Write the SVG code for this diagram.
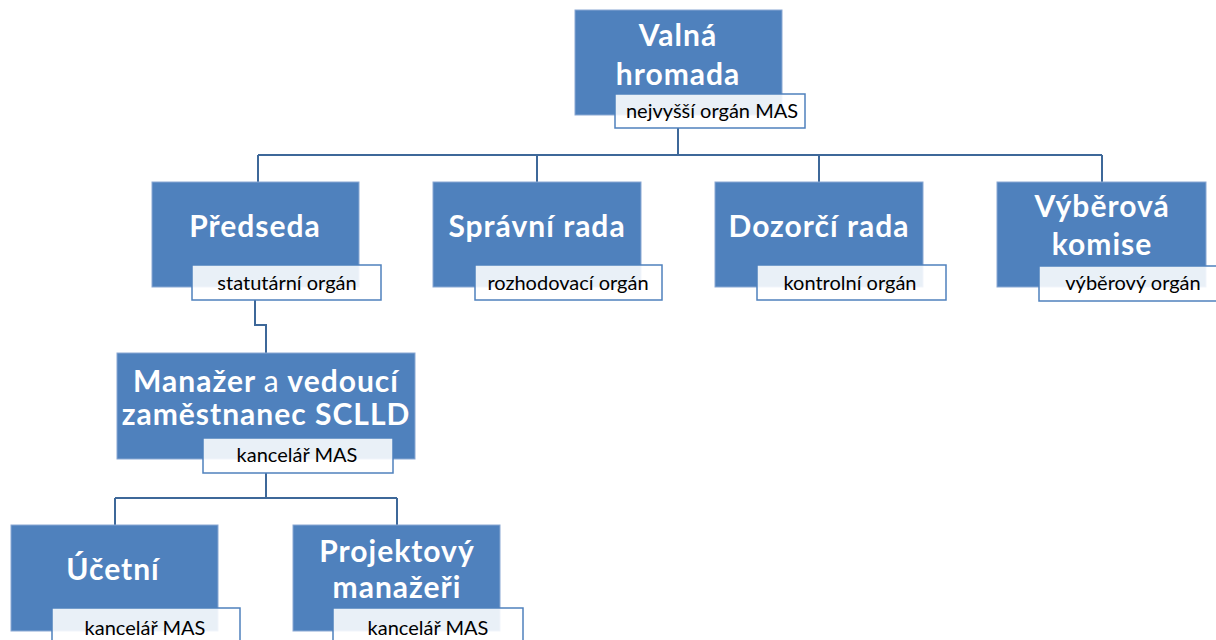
<svg xmlns="http://www.w3.org/2000/svg" width="1216" height="640" viewBox="0 0 1216 640">
<style>
.box{fill:#4F81BD;stroke:#8AA8D3;stroke-width:1}
.lbl{fill:#FFFFFF;fill-opacity:0.88;stroke:#4F81BD;stroke-width:1.5}
.t{font-family:Lato,"Open Sans","Liberation Sans",sans-serif;font-weight:700;font-size:30px;letter-spacing:1px;fill:#FFFFFF;text-anchor:middle}
.s{font-family:Lato,"Open Sans","Liberation Sans",sans-serif;font-size:20px;fill:#000000;text-anchor:middle}
.c{fill:none;stroke:#3E6899;stroke-width:2}
</style>
<rect width="1216" height="640" fill="#FFFFFF"/>
<g id="connectors">
<path class="c" d="M678 128V155M258 155H1102M258 155V182M537 155V182M819 155V182M1102 155V182"/>
<path class="c" d="M255 300V325H266V353"/>
<path class="c" d="M266 473V498M115 498H397M115 498V525M397 498V525"/>
</g>
<g id="valna">
<rect class="box" x="575" y="10" width="207" height="105"/>
<text class="t" x="678" y="46">Valná</text>
<text class="t" x="678" y="85">hromada</text>
<rect class="lbl" x="615" y="94" width="190" height="34"/>
<text class="s" x="712" y="118">nejvyšší orgán MAS</text>
</g>
<g id="predseda">
<rect class="box" x="152" y="182" width="207" height="105"/>
<text class="t" x="255" y="237">Předseda</text>
<rect class="lbl" x="192" y="265" width="189" height="35"/>
<text class="s" x="287" y="290">statutární orgán</text>
</g>
<g id="spravni">
<rect class="box" x="433" y="182" width="208" height="105"/>
<text class="t" x="537" y="237">Správní rada</text>
<rect class="lbl" x="475" y="265" width="187" height="35"/>
<text class="s" x="568" y="290">rozhodovací orgán</text>
</g>
<g id="dozorci">
<rect class="box" x="715" y="182" width="208" height="105"/>
<text class="t" x="819" y="237">Dozorčí rada</text>
<rect class="lbl" x="757" y="265" width="189" height="35"/>
<text class="s" x="850" y="290">kontrolní orgán</text>
</g>
<g id="vyberova">
<rect class="box" x="997" y="182" width="209" height="105"/>
<text class="t" x="1102" y="217">Výběrová</text>
<text class="t" x="1102" y="255">komise</text>
<rect class="lbl" x="1039" y="266" width="190" height="35"/>
<text class="s" x="1133" y="290">výběrový orgán</text>
</g>
<g id="manazer">
<rect class="box" x="117" y="353" width="298" height="106"/>
<text class="t" x="266" y="392" letter-spacing="0.7">Manažer <tspan font-weight="400">a</tspan> vedoucí</text>
<text class="t" x="266" y="425" letter-spacing="0.7">zaměstnanec SCLLD</text>
<rect class="lbl" x="203" y="438" width="190" height="35"/>
<text class="s" x="297" y="462">kancelář MAS</text>
</g>
<g id="ucetni">
<rect class="box" x="11" y="525" width="207" height="106"/>
<text class="t" x="113" y="580">Účetní</text>
<rect class="lbl" x="52" y="608" width="188" height="40"/>
<text class="s" x="145" y="635">kancelář MAS</text>
</g>
<g id="projektovy">
<rect class="box" x="293" y="525" width="207" height="106"/>
<text class="t" x="397" y="562">Projektový</text>
<text class="t" x="397" y="598">manažeři</text>
<rect class="lbl" x="333" y="608" width="190" height="40"/>
<text class="s" x="428" y="635">kancelář MAS</text>
</g>
</svg>
